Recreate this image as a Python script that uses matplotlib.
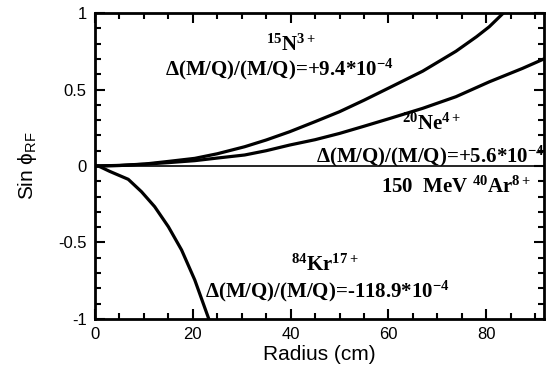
import numpy as np
import matplotlib
matplotlib.use('Agg')
import matplotlib.pyplot as plt
from matplotlib.ticker import MultipleLocator

plt.rcParams['font.family'] = ['Liberation Sans', 'DejaVu Sans']
plt.rcParams['mathtext.fontset'] = 'custom'
plt.rcParams['mathtext.rm'] = 'Liberation Serif:bold'
plt.rcParams['mathtext.it'] = 'Liberation Serif:bold'
plt.rcParams['mathtext.bf'] = 'Liberation Serif:bold'
plt.rcParams['mathtext.sf'] = 'Liberation Sans'

# curves: radius (cm) vs sin(phi_RF)
r_n = [0, 5, 10.2, 15, 20.4, 25, 30.6, 35, 39.8, 45, 50, 55, 60.2, 67, 73.8, 78, 80.6, 83.5, 85]
s_n = [0, 0.004, 0.013, 0.03, 0.05, 0.08, 0.126, 0.17, 0.224, 0.29, 0.355, 0.43, 0.512,
       0.62, 0.75, 0.845, 0.91, 1.0, 1.04]

r_ne = [0, 5, 10.2, 15, 20.4, 25, 30.6, 35, 39.8, 45, 50, 55, 60.2, 67, 73.8, 80.6, 87.4, 91.8, 93]
s_ne = [0, 0.003, 0.012, 0.022, 0.035, 0.052, 0.072, 0.1, 0.137, 0.172, 0.213, 0.26, 0.31,
        0.377, 0.453, 0.55, 0.638, 0.70, 0.72]

r_kr = [0, 0.7, 3, 6.8, 9.5, 12.2, 15, 17.7, 20.4, 23.1, 23.6]
s_kr = [0, 0, -0.035, -0.087, -0.168, -0.266, -0.397, -0.549, -0.745, -0.985, -1.03]

r_ar = [0, 92]
s_ar = [0, 0]

fig = plt.figure(figsize=(5.47, 3.73), dpi=100)
ax = fig.add_axes([0.1737, 0.1448, 0.8208, 0.8203])

ax.plot(r_ar, s_ar, 'k', lw=1.2)
ax.plot(r_n, s_n, 'k', lw=2.3)
ax.plot(r_ne, s_ne, 'k', lw=2.3)
ax.plot(r_kr, s_kr, 'k', lw=2.3)

ax.set_xlim(0, 91.8)
ax.set_ylim(-1, 1)
ax.xaxis.set_major_locator(MultipleLocator(20))
ax.xaxis.set_minor_locator(MultipleLocator(5))
ax.yaxis.set_minor_locator(MultipleLocator(0.1))
ax.set_yticks([-1, -0.5, 0, 0.5, 1])
ax.set_yticklabels(['-1', '-0.5', '0', '0.5', '1'])
ax.tick_params(which='both', direction='in', top=True, right=True, width=1.5)
ax.tick_params(which='major', length=7, labelsize=12, pad=6)
ax.tick_params(which='minor', length=4)
for s in ax.spines.values():
    s.set_linewidth(2)

ax.set_xlabel('Radius (cm)', fontsize=15, labelpad=2)
ax.set_ylabel(r'Sin ϕ$_{\mathsf{RF}}$', fontsize=15, labelpad=14)

tf = dict(fontsize=15, fontfamily='Liberation Serif', fontweight='bold',
          transform=ax.transData)
ax.text(40, 0.79, r'$^{15}$N$^{3+}$', ha='center', va='center', **tf)
ax.text(14.3, 0.63, r'Δ(M/Q)/(M/Q)=+9.4*10$^{-4}$', ha='left', va='center', **tf)
ax.text(68.8, 0.27, r'$^{20}$Ne$^{4+}$', ha='center', va='center', **tf)
ax.text(45.2, 0.06, r'Δ(M/Q)/(M/Q)=+5.6*10$^{-4}$', ha='left', va='center', **tf)
ax.text(58.5, -0.14, r'150  MeV $^{40}$Ar$^{8+}$', ha='left', va='center', **tf)
ax.text(47, -0.65, r'$^{84}$Kr$^{17+}$', ha='center', va='center', **tf)
ax.text(22.5, -0.82, r'Δ(M/Q)/(M/Q)=-118.9*10$^{-4}$', ha='left', va='center', **tf)

fig.savefig('out.png', dpi=100)
